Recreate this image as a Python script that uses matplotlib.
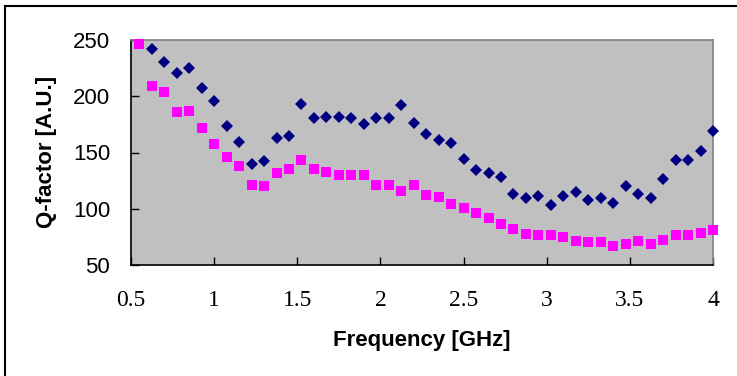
import matplotlib
matplotlib.use('Agg')
import matplotlib.pyplot as plt
from matplotlib.lines import Line2D

# --- DATA ---
freq_pink = [0.55, 0.625, 0.70, 0.775, 0.85, 0.925, 1.00, 1.075, 1.15, 1.225,
             1.30, 1.375, 1.45, 1.525, 1.60, 1.675, 1.75, 1.825, 1.90, 1.975,
             2.05, 2.125, 2.20, 2.275, 2.35, 2.425, 2.50, 2.575, 2.65, 2.725,
             2.80, 2.875, 2.95, 3.025, 3.10, 3.175, 3.25, 3.325, 3.40, 3.475,
             3.55, 3.625, 3.70, 3.775, 3.85, 3.925, 4.00]
q_pink = [246.7, 209.0, 203.7, 185.6, 186.8, 171.4, 157.5, 146.2, 138.2, 121.3,
          120.1, 132.2, 135.5, 143.5, 135.2, 132.5, 129.6, 129.6, 129.6, 121.5,
          121.5, 115.9, 121.5, 111.8, 110.3, 104.6, 100.5, 96.4, 92.2, 86.6,
          82.4, 78.0, 76.8, 76.8, 75.3, 71.2, 70.1, 70.1, 67.0, 68.5,
          71.2, 68.5, 72.6, 76.8, 76.8, 78.3, 81.0]

freq_blue = freq_pink[1:]
q_blue = [241.7, 230.7, 220.9, 225.0, 207.0, 196.0, 173.5, 159.5, 140.2, 142.6,
          162.8, 165.1, 193.3, 180.5, 182.0, 182.0, 180.3, 175.0, 180.3, 180.3,
          191.8, 176.4, 166.6, 161.0, 158.4, 144.4, 134.6, 131.7, 127.8, 113.5,
          109.7, 110.9, 103.7, 110.9, 115.3, 108.2, 109.7, 105.2, 120.6, 113.5,
          109.4, 126.3, 142.9, 142.9, 151.5, 169.3]

x_ticks = [0.5, 1, 1.5, 2, 2.5, 3, 3.5, 4]
x_ticklabels = ['0.5', '1', '1.5', '2', '2.5', '3', '3.5', '4']
y_ticks = [50, 100, 150, 200, 250]

W, H = 737, 376
fig = plt.figure(figsize=(W / 100, H / 100), dpi=100)
fig.patch.set_facecolor('white')

# plot area in pixels: x 131..713, y 40..265
ax = fig.add_axes([131 / W, (H - 265) / H, (713 - 131) / W, (265 - 40) / H])
ax.set_facecolor('#C0C0C0')

ax.plot(freq_blue, q_blue, linestyle='none', marker='D', markersize=5.8,
        color='#000080', markeredgewidth=0, clip_on=False, zorder=3)
ax.plot(freq_pink, q_pink, linestyle='none', marker='s', markersize=7,
        color='#FF00FF', markeredgewidth=0, clip_on=False, zorder=4)

ax.set_xlim(0.5, 4)
ax.set_ylim(50, 250)
ax.set_xticks(x_ticks)
ax.set_xticklabels(x_ticklabels, family='Liberation Serif', fontsize=17)
ax.set_yticks(y_ticks)
for lbl in ax.get_yticklabels():
    lbl.set_family('Liberation Sans')
    lbl.set_fontsize(16)

ax.tick_params(axis='x', direction='in', length=6, width=1, color='black', pad=18)
ax.tick_params(axis='y', direction='in', length=6, width=1, color='black', pad=15)

for side in ['top', 'right']:
    ax.spines[side].set_color('#808080')
    ax.spines[side].set_linewidth(1.2)
for side in ['left', 'bottom']:
    ax.spines[side].set_color('black')
    ax.spines[side].set_linewidth(1.2)

ax.set_xlabel('Frequency [GHz]', family='Liberation Sans', fontsize=16, weight='bold')
ax.set_ylabel('Q-factor [A.U.]', family='Liberation Sans', fontsize=16, weight='bold')
ax.xaxis.set_label_coords(0.5, -0.29)
ax.yaxis.set_label_coords(-0.127, 0.504)

# outer chart border (only left and top visible in the crop)
fig.add_artist(Line2D([5 / W, 5 / W], [0, 1 - 6 / H], transform=fig.transFigure,
                      color='black', linewidth=1.5))
fig.add_artist(Line2D([5 / W, 1], [1 - 6 / H, 1 - 6 / H], transform=fig.transFigure,
                      color='black', linewidth=1.5))

fig.savefig('out.png', dpi=100)
